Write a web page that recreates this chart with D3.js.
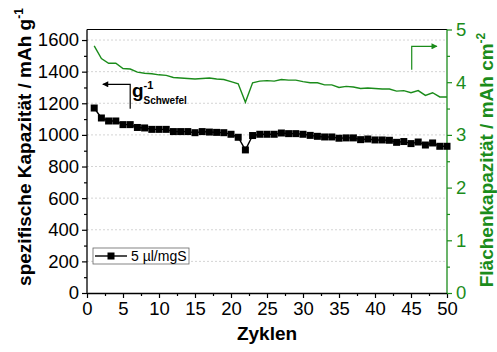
<!DOCTYPE html>
<html>
<head>
<meta charset="utf-8">
<script src="https://cdn.jsdelivr.net/npm/d3@7"></script>
<style>
  html, body { margin: 0; padding: 0; background: #fff; }
  svg { display: block; font-family: "Liberation Sans", Arial, sans-serif; }
</style>
</head>
<body>
<svg id="chart" width="497" height="352"></svg>
<script>
// Cycle numbers
const cycles = [1,2,3,4,5,6,7,8,9,10,11,12,13,14,15,16,17,18,19,20,
                21,22,23,24,25,26,27,28,29,30,31,32,33,34,35,36,37,38,39,40,
                41,42,43,44,45,46,47,48,49,50];
// Specific capacity, mAh per g sulfur (left axis)
const specificCapacity = [1170,1107,1088,1088,1065,1065,1047,1044,1035,1035,
                          1035,1021,1021,1021,1014,1021,1018,1016,1014,1004,
                          985,905,996,1004,1004,1004,1012,1008,1008,1004,
                          997,991,987,987,979,981,981,970,974,968,
                          968,966,953,958,945,955,936,949,928,928];
// Areal capacity, mAh per cm² (right axis)
const arealCapacity = [4.69,4.45,4.36,4.36,4.26,4.25,4.19,4.17,4.16,4.14,
                       4.13,4.09,4.08,4.07,4.06,4.07,4.08,4.06,4.05,4.01,
                       3.97,3.62,3.99,4.02,4.03,4.02,4.05,4.04,4.04,4.01,
                       3.99,3.99,3.95,3.95,3.90,3.92,3.91,3.88,3.89,3.88,
                       3.87,3.87,3.83,3.84,3.80,3.84,3.75,3.80,3.72,3.72];
const xTicks = [0,5,10,15,20,25,30,35,40,45,50];
const leftTicks = [0,200,400,600,800,1000,1200,1400,1600];
const rightTicks = [0,1,2,3,4,5];
const seriesLabel = "5 µl/mgS";

const GREEN = "#1b8c1b";
const svg = d3.select("#chart");
const L = 87, R = 447, T = 29.5, B = 293;

const x = d3.scaleLinear().domain([0, 50]).range([L, R]);
const yL = d3.scaleLinear().domain([0, 5000 / 3]).range([B, T]);
const yR = d3.scaleLinear().domain([0, 5]).range([B, T]);
const fmt = d3.format("d");

// dashed horizontal grid at the left major ticks
svg.append("g").selectAll("line")
  .data(leftTicks.filter(d => d > 0))
  .join("line")
  .attr("x1", L).attr("x2", R)
  .attr("y1", d => yL(d)).attr("y2", d => yL(d))
  .attr("stroke", "#d4d4d4").attr("stroke-width", 1)
  .attr("stroke-dasharray", "2,2");

// frame top
svg.append("line").attr("x1", L).attr("x2", R).attr("y1", T).attr("y2", T)
  .attr("stroke", "#000").attr("stroke-width", 1.2);

function styleAxis(g, color, fs) {
  g.select(".domain").attr("stroke", color).attr("stroke-width", 1.3);
  g.selectAll(".tick line").attr("stroke", color).attr("stroke-width", 1.2);
  g.selectAll(".tick text").attr("fill", color)
    .style("font-size", fs + "px").style("font-family", "'Liberation Sans', Arial, sans-serif");
}

// minor ticks
function minor(axisGen, pos, vals, color) {
  const g = svg.append("g").attr("transform", pos).call(axisGen.tickValues(vals).tickFormat("").tickSize(3).tickSizeOuter(0));
  g.select(".domain").remove();
  g.selectAll(".tick line").attr("stroke", color).attr("stroke-width", 1.2);
}
minor(d3.axisBottom(x), `translate(0,${B})`, d3.range(2.5, 50, 5), "#000");
minor(d3.axisLeft(yL), `translate(${L},0)`, d3.range(100, 1700, 200), "#000");
minor(d3.axisRight(yR), `translate(${R},0)`, [0.5,1.5,2.5,3.5,4.5], GREEN);

const gx = svg.append("g").attr("transform", `translate(0,${B})`)
  .call(d3.axisBottom(x).tickValues(xTicks).tickFormat(fmt).tickSize(5).tickSizeOuter(0).tickPadding(4));
styleAxis(gx, "#000", 18.5);

const gl = svg.append("g").attr("transform", `translate(${L},0)`)
  .call(d3.axisLeft(yL).tickValues(leftTicks).tickFormat(fmt).tickSize(5).tickSizeOuter(0).tickPadding(3));
styleAxis(gl, "#000", 18.5);
gl.select(".domain").attr("d", `M0,${B}V${T}`);

const gr = svg.append("g").attr("transform", `translate(${R},0)`)
  .call(d3.axisRight(yR).tickValues(rightTicks).tickFormat(fmt).tickSize(5).tickSizeOuter(0).tickPadding(4));
styleAxis(gr, GREEN, 18.5);
gr.select(".domain").attr("d", `M0,${B}V${T}`);

// areal capacity line
svg.append("path")
  .datum(cycles.map((c, i) => [c, arealCapacity[i]]))
  .attr("fill", "none").attr("stroke", GREEN).attr("stroke-width", 1.4)
  .attr("d", d3.line().x(d => x(d[0])).y(d => yR(d[1])));

// specific capacity line + square markers
const spec = cycles.map((c, i) => [c, specificCapacity[i]]);
svg.append("path").datum(spec)
  .attr("fill", "none").attr("stroke", "#000").attr("stroke-width", 1.4)
  .attr("d", d3.line().x(d => x(d[0])).y(d => yL(d[1])));
svg.append("g").selectAll("rect").data(spec).join("rect")
  .attr("x", d => x(d[0]) - 3.5).attr("y", d => yL(d[1]) - 3.5)
  .attr("width", 7).attr("height", 7).attr("fill", "#000");

// axis titles
svg.append("text")
  .attr("transform", `translate(31,147) rotate(-90)`)
  .attr("text-anchor", "middle")
  .style("font-size", "19px").style("font-weight", "bold")
  .call(t => {
    t.append("tspan").text("spezifische Kapazität / mAh g");
    t.append("tspan").attr("dy", -8).style("font-size", "12px").text("-1");
  });

svg.append("text")
  .attr("transform", `translate(493,160) rotate(-90)`)
  .attr("text-anchor", "middle").attr("fill", GREEN)
  .style("font-size", "19px").style("font-weight", "bold")
  .call(t => {
    t.append("tspan").text("Flächenkapazität / mAh cm");
    t.append("tspan").attr("dy", -8).style("font-size", "12px").text("-2");
  });

svg.append("text").attr("x", 267).attr("y", 340).attr("text-anchor", "middle")
  .style("font-size", "19px").style("font-weight", "bold").text("Zyklen");

// arrow markers for the axis hints
const defs = svg.append("defs");
function arrowHead(id, color) {
  defs.append("marker").attr("id", id).attr("viewBox", "0 0 10 10")
    .attr("refX", 9).attr("refY", 5).attr("markerWidth", 8).attr("markerHeight", 6)
    .attr("markerUnits", "userSpaceOnUse").attr("orient", "auto")
    .append("path").attr("d", "M0,0L10,5L0,10Z").attr("fill", color);
}
arrowHead("ahBlack", "#000");
arrowHead("ahGreen", GREEN);

// left hint: points to specific capacity axis
svg.append("path")
  .attr("d", `M${x(6)},${yL(1165)}V${yL(1320)}H${x(2.2)}`)
  .attr("fill", "none").attr("stroke", "#000").attr("stroke-width", 1.2)
  .attr("marker-end", "url(#ahBlack)");
const gLab = svg.append("text").attr("x", 132).attr("y", 97)
  .style("font-weight", "bold").style("font-size", "19px");
gLab.append("tspan").text("g");
gLab.append("tspan").attr("x", 143.5).attr("y", 89).style("font-size", "11px").text("-1");
gLab.append("tspan").attr("x", 143.5).attr("y", 104).style("font-size", "10px").text("Schwefel");

// right hint: points to areal capacity axis
svg.append("path")
  .attr("d", `M${x(45.1)},${yR(4.237)}V${yR(4.68)}H${x(48.6)}`)
  .attr("fill", "none").attr("stroke", GREEN).attr("stroke-width", 1.2)
  .attr("marker-end", "url(#ahGreen)");

// legend
const lg = svg.append("g").attr("transform", "translate(93,248)");
lg.append("rect").attr("width", 96).attr("height", 16)
  .attr("fill", "#fff").attr("stroke", "#666").attr("stroke-width", 0.8);
lg.append("line").attr("x1", 2).attr("x2", 34).attr("y1", 8).attr("y2", 8)
  .attr("stroke", "#000").attr("stroke-width", 1.4);
lg.append("rect").attr("x", 14.5).attr("y", 4.5).attr("width", 7).attr("height", 7).attr("fill", "#000");
lg.append("text").attr("x", 38).attr("y", 13).style("font-size", "14px").text(seriesLabel);
</script>
</body>
</html>
